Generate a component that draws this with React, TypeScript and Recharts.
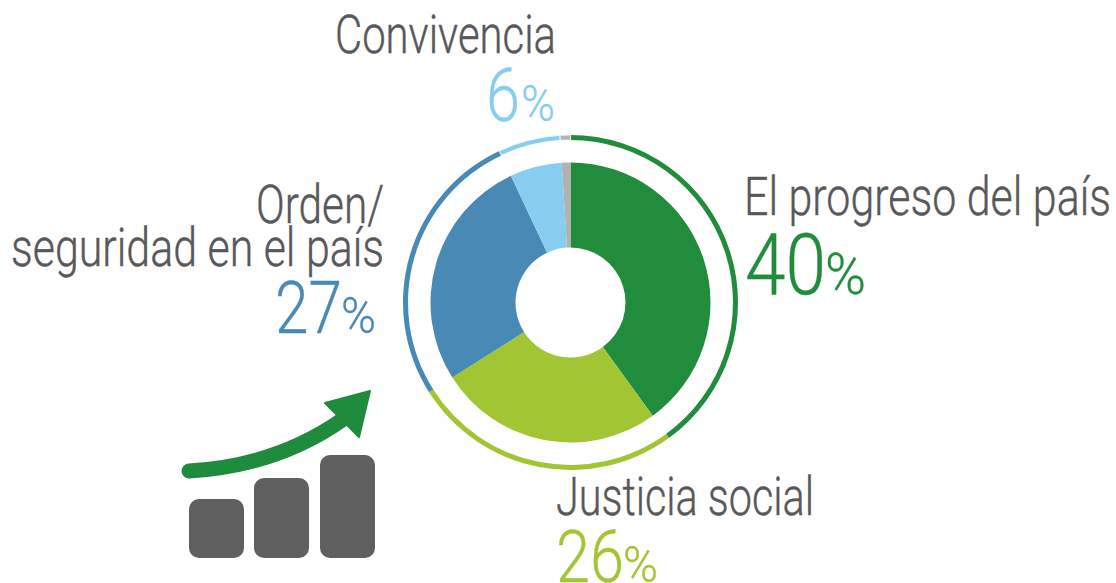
import { PieChart, Pie, Cell } from 'recharts'

const categories = ['El progreso del país', 'Justicia social', 'Orden/seguridad en el país', 'Convivencia', 'Otros']
const values = [40, 26, 27, 6, 1]
const colors = ['#218c3c', '#a2c534', '#4889b5', '#87cdf0', '#b1b1b1']

const data = categories.map((name, i) => ({ name, value: values[i] }))

const GREY = '#58585a'
const FONT = 'Roboto, "Liberation Sans", sans-serif'

function Label({ x, y, w, children }: { x: number; y: number; w: number; children: string }) {
  return (
    <text
      x={x}
      y={y}
      textLength={w}
      lengthAdjust="spacingAndGlyphs"
      fontFamily={FONT}
      fontWeight={300}
      fontSize={53}
      fill={GREY}
      stroke={GREY}
      strokeWidth={0.4}
    >
      {children}
    </text>
  )
}

interface PctProps {
  x: number
  y: number
  w: number
  size: number
  pctX: number
  pctW: number
  pctSize: number
  fill: string
  children: string
}

function Pct({ x, y, w, size, pctX, pctW, pctSize, fill, children }: PctProps) {
  return (
    <text y={y} fontFamily={FONT} fontWeight={300} fill={fill} stroke={fill} strokeWidth={0.3}>
      <tspan x={x} fontSize={size} textLength={w} lengthAdjust="spacingAndGlyphs">{children}</tspan>
      <tspan x={pctX} fontSize={pctSize} textLength={pctW} lengthAdjust="spacingAndGlyphs">%</tspan>
    </text>
  )
}

function Icon() {
  return (
    <g>
      <rect x={189} y={499} width={55} height={59} rx={10} fill="#606060" />
      <rect x={254} y={478} width={55} height={80} rx={10} fill="#606060" />
      <rect x={320} y={455} width={55} height={103} rx={10} fill="#606060" />
      <path d="M189 471 Q276 466 342 420" fill="none" stroke="#1e8c3c" strokeWidth={15} strokeLinecap="round" />
      <path d="M325 403 L370 391 L359 437 Z" fill="#1e8c3c" stroke="#1e8c3c" strokeWidth={2} strokeLinejoin="round" />
    </g>
  )
}

export default function App() {
  return (
    <div style={{ position: 'absolute', left: 0, top: 0, width: 1116, height: 583, overflow: 'hidden', background: '#fff' }}>
      <PieChart width={1116} height={583} margin={{ top: 0, right: 0, bottom: 0, left: 0 }}>
        <Pie
          data={data}
          dataKey="value"
          cx={570.5}
          cy={302.5}
          startAngle={90}
          endAngle={-270}
          innerRadius={55}
          outerRadius={140}
          stroke="none"
          isAnimationActive={false}
        >
          {data.map((d, i) => <Cell key={d.name} fill={colors[i]} />)}
        </Pie>
        <Pie
          data={data}
          dataKey="value"
          cx={570.5}
          cy={302.5}
          startAngle={90}
          endAngle={-270}
          innerRadius={162.5}
          outerRadius={167.5}
          stroke="none"
          isAnimationActive={false}
        >
          {data.map((d, i) => (
            <Cell key={d.name} fill={colors[i]} stroke={i > 2 ? '#fff' : 'none'} strokeWidth={i > 2 ? 0.8 : 0} />
          ))}
        </Pie>
      </PieChart>
      <svg width={1116} height={583} style={{ position: 'absolute', left: 0, top: 0 }}>
        <Label x={335} y={53} w={221}>Convivencia</Label>
        <Pct x={486} y={121} w={34} size={74} pctX={521} pctW={34} pctSize={50} fill={colors[3]}>6</Pct>

        <Label x={744} y={215} w={367}>El progreso del país</Label>
        <Pct x={745} y={294} w={81} size={85} pctX={825} pctW={41} pctSize={57} fill={colors[0]}>40</Pct>

        <Label x={256} y={223} w={128}>Orden/</Label>
        <Label x={11} y={266} w={373}>seguridad en el país</Label>
        <Pct x={275} y={333} w={67} size={72} pctX={341} pctW={35} pctSize={50} fill={colors[2]}>27</Pct>

        <Label x={556} y={515} w={258}>Justicia social</Label>
        <Pct x={556} y={582} w={68} size={72} pctX={623} pctW={35} pctSize={50} fill={colors[1]}>26</Pct>

        <Icon />
      </svg>
    </div>
  )
}
